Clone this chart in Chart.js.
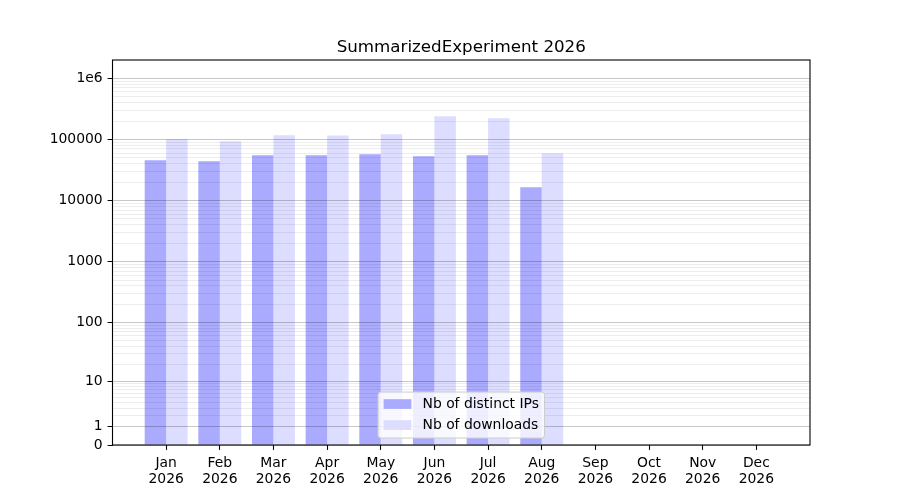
<!DOCTYPE html>
<html>
<head>
<meta charset="utf-8">
<title>SummarizedExperiment 2026</title>
<script src="https://cdn.jsdelivr.net/npm/chart.js@4.4.1/dist/chart.umd.min.js"></script>
<style>
  html, body { margin: 0; padding: 0; background: #fff; }
  #wrap { width: 900px; height: 500px; }
</style>
</head>
<body>
<div id="wrap"><canvas id="chart" width="900" height="500"></canvas></div>
<script>
// data
const YEAR = '2026';
const TITLE = 'SummarizedExperiment ' + YEAR;
const months = ['Jan', 'Feb', 'Mar', 'Apr', 'May', 'Jun', 'Jul', 'Aug', 'Sep', 'Oct', 'Nov', 'Dec'];
const distinctIPs = [45800, 44200, 55400, 55000, 57500, 53300, 55400, 16600, 0, 0, 0, 0];
const downloads = [101000, 93800, 117600, 116000, 122000, 240000, 223000, 59700, 0, 0, 0, 0];
const yTicks = [0, 1, 10, 100, 1000, 10000, 100000, 1000000];
const yTickLabels = ['0', '1', '10', '100', '1000', '10000', '100000', '1e6'];
const yTop = 2.0e6;

// minor ticks 2..9 inside each decade (gridlines only)
const minorTicks = [];
yTicks.slice(1, -1).forEach(d => {
  for (let k = 2; k <= 9; k++) minorTicks.push(k * d);
});
const allTicks = yTicks.concat(minorTicks).sort((a, b) => a - b);

const FS = 13.9;
Chart.defaults.font.family = '"DejaVu Sans", sans-serif';
Chart.defaults.font.size = FS;
Chart.defaults.color = '#000';

// y scale on log10(1 + v)
class Log1pScale extends Chart.LinearScale {
  static id = 'log1p';
  static defaults = {};
  determineDataLimits() {
    this.min = 0;
    this.max = Math.log10(1 + yTop);
  }
  buildTicks() {
    return allTicks.map(v => ({ value: v }));
  }
  getPixelForValue(value) {
    if (value === null || value === undefined || isNaN(value)) return NaN;
    return this.getPixelForDecimal((Math.log10(1 + value) - this._startValue) / this._valueRange);
  }
  getValueForPixel(pixel) {
    const t = this._startValue + this.getDecimalForPixel(pixel) * this._valueRange;
    return Math.pow(10, t) - 1;
  }
}
Chart.register(Log1pScale);

const isMajor = v => yTicks.includes(v);

// frame round the axes and the title centred on them
const frame = {
  id: 'frame',
  afterDraw(chart) {
    const { ctx, chartArea: a } = chart;
    ctx.save();
    ctx.strokeStyle = '#000';
    ctx.lineWidth = 1.1;
    ctx.strokeRect(a.left, a.top, a.right - a.left, a.bottom - a.top);
    ctx.font = '16.7px "DejaVu Sans"';
    ctx.fillStyle = '#000';
    ctx.textAlign = 'center';
    ctx.textBaseline = 'middle';
    ctx.fillText(TITLE, (a.left + a.right) / 2, a.top - 12.5);
    ctx.restore();
  }
};

const axesLegend = {
  id: 'axesLegend',
  afterDraw(chart) {
    const { ctx, chartArea: a } = chart;
    const items = chart.data.datasets.map(ds => ({ label: ds.label, color: ds.backgroundColor }));
    ctx.save();
    ctx.font = FS + 'px "DejaVu Sans"';
    const textW = Math.max(...items.map(it => ctx.measureText(it.label).width));
    const pad = 0.4 * FS, handle = 2 * FS, gap = 0.8 * FS;
    const w = pad + handle + gap + textW + pad;
    const h = 46;
    const x = (a.left + a.right) / 2 - w / 2;
    const y = a.bottom - 0.5 * FS - h;
    const r = 0.2 * FS;
    ctx.beginPath();
    ctx.roundRect(x, y, w, h, r);
    ctx.fillStyle = 'rgba(255,255,255,0.8)';
    ctx.fill();
    ctx.strokeStyle = '#cccccc';
    ctx.lineWidth = 1;
    ctx.stroke();
    ctx.textBaseline = 'middle';
    items.forEach((it, i) => {
      const cy = y + 12 + i * 21;
      ctx.fillStyle = it.color;
      ctx.fillRect(x + pad, cy - 0.35 * FS, handle, 0.7 * FS);
      ctx.fillStyle = '#000';
      ctx.fillText(it.label, x + pad + handle + gap, cy);
    });
    ctx.restore();
  }
};

new Chart(document.getElementById('chart'), {
  type: 'bar',
  data: {
    datasets: [
      {
        label: 'Nb of distinct IPs',
        data: distinctIPs.map((v, i) => ({ x: i, y: v })),
        backgroundColor: '#aaaaff',
        borderWidth: 0,
      },
      {
        label: 'Nb of downloads',
        data: downloads.map((v, i) => ({ x: i, y: v })),
        backgroundColor: '#ddddff',
        borderWidth: 0,
      },
    ],
  },
  options: {
    responsive: false,
    animation: false,
    devicePixelRatio: 1,
    categoryPercentage: 0.8,
    barPercentage: 1.0,
    layout: { padding: { left: 0, right: 90, top: 60, bottom: 0 } },
    plugins: {
      legend: { display: false },
      tooltip: { enabled: false },
      title: { display: false },
    },
    scales: {
      x: {
        type: 'linear',
        min: -1,
        max: 12,
        offset: false,
        afterBuildTicks: (scale) => { scale.ticks = months.map((m, i) => ({ value: i })); },
        afterFit: (scale) => { scale.height = 55; },
        grid: {
          offset: false,
          drawOnChartArea: false,
          drawTicks: true,
          tickLength: 4.9,
          tickColor: '#000',
          tickWidth: 1.1,
        },
        border: { display: false },
        ticks: {
          autoSkip: false,
          maxRotation: 0,
          padding: 4.9,
          font: { size: FS, lineHeight: 1.2 },
          callback: (value) => [months[value], YEAR],
        },
      },
      y: {
        type: 'log1p',
        afterFit: (scale) => { scale.width = 112.5; },
        grid: {
          z: 1,
          drawOnChartArea: true,
          drawTicks: true,
          tickLength: 4.9,
          lineWidth: 1,
          color: (ctx) => isMajor(ctx.tick.value) ? 'rgba(0,0,0,0.22)' : 'rgba(0,0,0,0.07)',
          tickColor: (ctx) => isMajor(ctx.tick.value) ? '#000' : 'rgba(0,0,0,0)',
        },
        border: { display: false },
        ticks: {
          autoSkip: false,
          padding: 4.9,
          callback: (value) => {
            const i = yTicks.indexOf(value);
            return i >= 0 ? yTickLabels[i] : '';
          },
        },
      },
    },
  },
  plugins: [frame, axesLegend],
});
</script>
</body>
</html>
